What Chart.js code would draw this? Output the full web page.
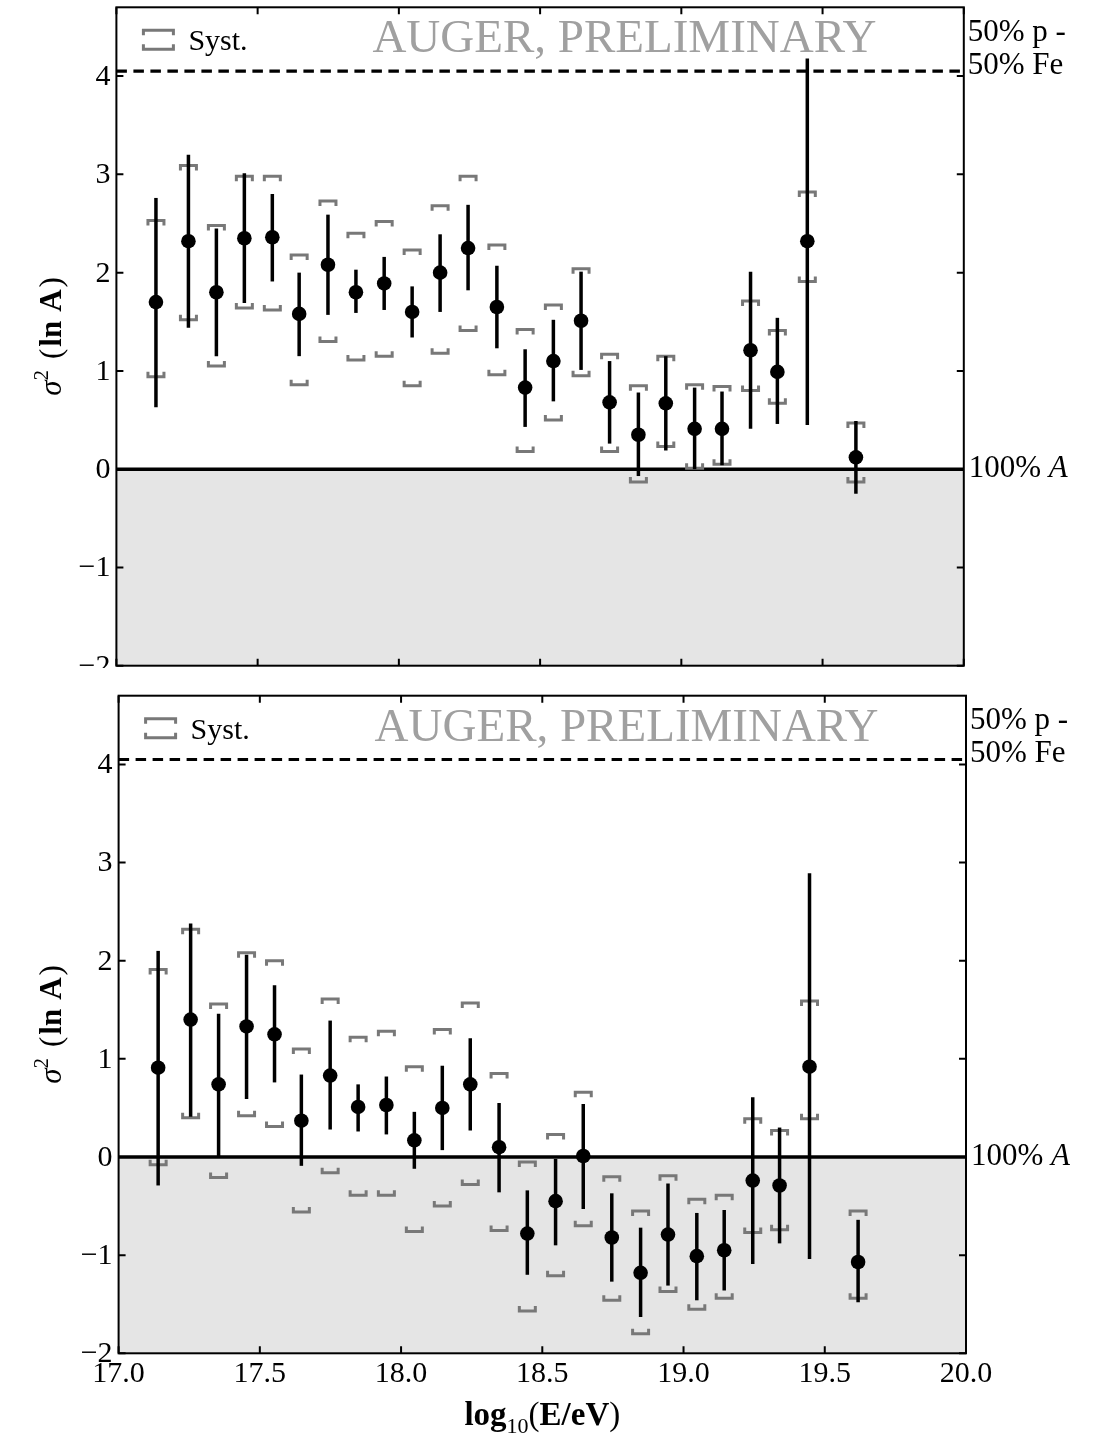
<!DOCTYPE html>
<html lang="en">
<head>
  <meta charset="UTF-8">
  <title>sigma^2(ln A) vs energy</title>
  <script src="https://cdn.jsdelivr.net/npm/chart.js"></script>
  <style>
    body { margin: 0; background: #fff; }
    #wrap { position: relative; width: 1095px; height: 1437px; }
    .panel { position: absolute; left: 0; width: 1095px; }
    #p1 { top: 0; height: 673px; }
    #p2 { top: 668px; height: 769px; background: #fff; }
  </style>
</head>
<body>
  <div id="wrap">
    <div class="panel" id="p1"><canvas id="c1"></canvas></div>
    <div class="panel" id="p2"><canvas id="c2"></canvas></div>
  </div>

  <script>
    // log10(E/eV) bin centres
    const energy = [17.14, 17.255, 17.354, 17.453, 17.552, 17.647, 17.749, 17.848, 17.948, 18.047,
                    18.146, 18.245, 18.347, 18.447, 18.547, 18.645, 18.746, 18.848, 18.945, 19.047,
                    19.144, 19.245, 19.34, 19.446, 19.618];

    // upper panel
    const val1    = [1.70, 2.32, 1.80, 2.35, 2.36, 1.58, 2.08, 1.80, 1.89, 1.60, 2.00, 2.25, 1.65, 0.83, 1.10, 1.51, 0.68, 0.35, 0.67, 0.41, 0.41, 1.21, 0.99, 2.32, 0.12];
    const errHi1  = [2.76, 3.20, 2.45, 3.01, 2.80, 2.00, 2.59, 2.03, 2.16, 1.86, 2.39, 2.69, 2.07, 1.22, 1.52, 2.01, 1.10, 0.78, 1.15, 0.83, 0.79, 2.01, 1.54, 4.18, 0.49];
    const errLo1  = [0.63, 1.44, 1.15, 1.69, 1.91, 1.15, 1.57, 1.59, 1.62, 1.34, 1.60, 1.82, 1.23, 0.43, 0.69, 1.01, 0.26, -0.07, 0.19, 0.00, 0.04, 0.41, 0.46, 0.45, -0.25];
    const systHi1 = [2.53, 3.09, 2.48, 2.98, 2.98, 2.18, 2.73, 2.40, 2.52, 2.23, 2.68, 2.98, 2.28, 1.42, 1.67, 2.04, 1.17, 0.85, 1.15, 0.86, 0.84, 1.71, 1.41, 2.82, 0.47];
    const systLo1 = [0.94, 1.52, 1.05, 1.64, 1.62, 0.86, 1.30, 1.11, 1.15, 0.85, 1.18, 1.41, 0.96, 0.18, 0.50, 0.95, 0.18, -0.13, 0.23, 0.01, 0.05, 0.80, 0.67, 1.91, -0.13];

    // lower panel
    const val2    = [0.91, 1.40, 0.74, 1.33, 1.25, 0.37, 0.83, 0.51, 0.53, 0.17, 0.50, 0.74, 0.10, -0.78, -0.45, 0.01, -0.82, -1.18, -0.79, -1.01, -0.95, -0.24, -0.29, 0.92, -1.07];
    const errHi2  = [2.10, 2.38, 1.46, 2.06, 1.75, 0.84, 1.39, 0.74, 0.82, 0.46, 0.93, 1.21, 0.55, -0.34, -0.02, 0.54, -0.37, -0.72, -0.27, -0.57, -0.54, 0.61, 0.30, 2.89, -0.64];
    const errLo2  = [-0.29, 0.41, 0.01, 0.59, 0.76, -0.09, 0.28, 0.26, 0.23, -0.12, 0.07, 0.27, -0.36, -1.20, -0.90, -0.53, -1.27, -1.63, -1.31, -1.46, -1.36, -1.09, -0.88, -1.04, -1.48];
    const systHi2 = [1.91, 2.32, 1.56, 2.08, 2.00, 1.10, 1.61, 1.22, 1.28, 0.92, 1.30, 1.57, 0.85, -0.05, 0.23, 0.66, -0.20, -0.55, -0.19, -0.43, -0.39, 0.39, 0.27, 1.59, -0.55];
    const systLo2 = [-0.08, 0.40, -0.21, 0.42, 0.31, -0.56, -0.16, -0.39, -0.39, -0.76, -0.50, -0.28, -0.75, -1.57, -1.21, -0.70, -1.46, -1.80, -1.37, -1.55, -1.44, -0.77, -0.74, 0.39, -1.44];

    const xTicks = [17.0, 17.5, 18.0, 18.5, 19.0, 19.5, 20.0];
    const yTicks = [-2, -1, 0, 1, 2, 3, 4];
    const mixLevel = 4.05;  // 50% p - 50% Fe
    const pureLevel = 0;    // 100% A

    const SERIF = '"Liberation Serif", "Times New Roman", serif';

    function runsWidth(ctx, runs) {
      let w = 0;
      runs.forEach(r => { ctx.font = r.font; w += ctx.measureText(r.t).width + (r.gap || 0); });
      return w;
    }
    function drawRuns(ctx, runs, x, y) {
      let cx = x;
      runs.forEach(r => {
        ctx.font = r.font;
        ctx.fillText(r.t, cx, y + (r.dy || 0));
        cx += ctx.measureText(r.t).width + (r.gap || 0);
      });
    }
    const fmtY = v => v < 0 ? '\u2212' + Math.abs(v) : String(v);

    const panelPlugin = {
      id: 'panel',
      beforeDatasetsDraw(chart, args, o) {
        const { ctx, chartArea: a, scales: { x, y } } = chart;
        const y0 = y.getPixelForValue(pureLevel);
        const yd = y.getPixelForValue(mixLevel);
        ctx.save();
        // shaded unphysical region
        ctx.fillStyle = '#e5e5e5';
        ctx.fillRect(a.left, y0, a.right - a.left, a.bottom - y0);

        ctx.strokeStyle = '#000';
        ctx.lineWidth = 3.2;
        ctx.setLineDash([10.5, 6.5]);
        ctx.beginPath(); ctx.moveTo(a.left, yd); ctx.lineTo(a.right, yd); ctx.stroke();
        ctx.setLineDash([]);
        ctx.lineWidth = 3.5;
        ctx.beginPath(); ctx.moveTo(a.left, y0); ctx.lineTo(a.right, y0); ctx.stroke();

        // systematic brackets
        ctx.strokeStyle = '#787878';
        ctx.lineWidth = 3;
        energy.forEach((e, i) => {
          const px = x.getPixelForValue(e);
          const yh = y.getPixelForValue(o.sHi[i]);
          const yl = y.getPixelForValue(o.sLo[i]);
          ctx.beginPath();
          ctx.moveTo(px - 8, yh + 5); ctx.lineTo(px - 8, yh); ctx.lineTo(px + 8, yh); ctx.lineTo(px + 8, yh + 5);
          ctx.moveTo(px - 8, yl - 5); ctx.lineTo(px - 8, yl); ctx.lineTo(px + 8, yl); ctx.lineTo(px + 8, yl - 5);
          ctx.stroke();
        });

        // statistical error bars
        ctx.strokeStyle = '#000';
        ctx.lineWidth = 3.5;
        energy.forEach((e, i) => {
          const px = x.getPixelForValue(e);
          ctx.beginPath();
          ctx.moveTo(px, y.getPixelForValue(o.eHi[i]));
          ctx.lineTo(px, y.getPixelForValue(o.eLo[i]));
          ctx.stroke();
        });
        ctx.restore();
      },
      afterDraw(chart, args, o) {
        const { ctx, chartArea: a, scales: { x, y } } = chart;
        ctx.save();
        // frame + inward ticks on all sides
        ctx.strokeStyle = '#000';
        ctx.lineWidth = 2;
        ctx.strokeRect(a.left, a.top, a.right - a.left, a.bottom - a.top);
        ctx.beginPath();
        xTicks.forEach(v => {
          const px = x.getPixelForValue(v);
          ctx.moveTo(px, a.bottom); ctx.lineTo(px, a.bottom - 7);
          ctx.moveTo(px, a.top); ctx.lineTo(px, a.top + 7);
        });
        yTicks.forEach(v => {
          const py = y.getPixelForValue(v);
          ctx.moveTo(a.left, py); ctx.lineTo(a.left + 7, py);
          ctx.moveTo(a.right, py); ctx.lineTo(a.right - 7, py);
        });
        ctx.stroke();

        // y tick labels
        ctx.fillStyle = '#000';
        ctx.font = '30px ' + SERIF;
        ctx.textAlign = 'right';
        ctx.textBaseline = 'middle';
        yTicks.forEach(v => ctx.fillText(fmtY(v), a.left - 6, y.getPixelForValue(v) + 1));

        ctx.textAlign = 'left';
        ctx.textBaseline = 'alphabetic';

        // Syst. legend
        const lx = a.left + 27, ly = a.top + 23;
        ctx.strokeStyle = '#787878';
        ctx.lineWidth = 3;
        ctx.beginPath();
        ctx.moveTo(lx, ly + 5); ctx.lineTo(lx, ly); ctx.lineTo(lx + 30, ly); ctx.lineTo(lx + 30, ly + 5);
        ctx.moveTo(lx, ly + 14); ctx.lineTo(lx, ly + 19); ctx.lineTo(lx + 30, ly + 19); ctx.lineTo(lx + 30, ly + 14);
        ctx.stroke();
        ctx.font = '30px ' + SERIF;
        ctx.fillText('Syst.', a.left + 72, a.top + 43);

        ctx.fillStyle = '#a0a0a0';
        ctx.font = '47px ' + SERIF;
        ctx.fillText('AUGER, PRELIMINARY', a.left + 256, a.top + 45);

        // reference labels on the right
        ctx.fillStyle = '#000';
        const yd = y.getPixelForValue(mixLevel);
        const y0 = y.getPixelForValue(pureLevel);
        ctx.font = '31px ' + SERIF;
        ctx.fillText('50% p -', a.right + 4, yd - 30);
        ctx.fillText('50% Fe', a.right + 4, yd + 3);
        drawRuns(ctx, [
          { t: '100% ', font: '31px ' + SERIF },
          { t: 'A', font: 'italic 31px ' + SERIF }
        ], a.right + 5, y0 + 8);

        // y title: sigma^2 (ln A)
        const yRuns = [
          { t: '\u03c3', font: 'italic 31px ' + SERIF },
          { t: '2', font: '21px ' + SERIF, dy: -13, gap: 11 },
          { t: '(', font: '31px ' + SERIF, gap: 2 },
          { t: 'ln', font: 'bold 31px ' + SERIF, gap: 9 },
          { t: 'A', font: 'bold 31px ' + SERIF, gap: 2 },
          { t: ')', font: '31px ' + SERIF }
        ];
        ctx.save();
        ctx.translate(61, (a.top + a.bottom) / 2);
        ctx.rotate(-Math.PI / 2);
        drawRuns(ctx, yRuns, -runsWidth(ctx, yRuns) / 2, 0);
        ctx.restore();

        // x title: log10(E/eV)
        if (o.xTitle) {
          const xRuns = [
            { t: 'log', font: 'bold 33px ' + SERIF },
            { t: '10', font: '22px ' + SERIF, dy: 8 },
            { t: '(', font: '33px ' + SERIF },
            { t: 'E/eV', font: 'bold 33px ' + SERIF },
            { t: ')', font: '33px ' + SERIF }
          ];
          drawRuns(ctx, xRuns, (a.left + a.right) / 2 - runsWidth(ctx, xRuns) / 2, a.bottom + 72);
        }
        ctx.restore();
      }
    };

    function makeChart(id, vals, eHi, eLo, sHi, sLo, cfg) {
      return new Chart(document.getElementById(id), {
        type: 'scatter',
        data: {
          datasets: [{
            data: energy.map((e, i) => ({ x: e, y: vals[i] })),
            pointRadius: 7.3,
            pointHoverRadius: 7.3,
            pointBorderWidth: 0,
            backgroundColor: '#000',
            borderColor: '#000'
          }]
        },
        options: {
          responsive: true,
          maintainAspectRatio: false,
          animation: false,
          events: [],
          layout: { padding: { top: cfg.padTop, right: cfg.padRight, left: 0, bottom: 0 } },
          plugins: {
            legend: { display: false },
            tooltip: { enabled: false },
            panel: { eHi, eLo, sHi, sLo, xTitle: cfg.xTitle }
          },
          scales: {
            x: {
              type: 'linear',
              min: 17, max: 20,
              afterBuildTicks: s => { s.ticks = xTicks.map(v => ({ value: v })); },
              afterFit: s => { s.height = cfg.xHeight; },
              grid: { display: false, drawTicks: false },
              border: { display: false },
              ticks: {
                display: cfg.xTitle,
                color: '#000',
                padding: 3,
                maxRotation: 0,
                font: { family: SERIF, size: 30 },
                callback: v => Number(v).toFixed(1)
              }
            },
            y: {
              type: 'linear',
              min: -2, max: 4.7,
              afterBuildTicks: s => { s.ticks = yTicks.map(v => ({ value: v })); },
              afterFit: s => { s.width = cfg.yWidth; },
              grid: { display: false, drawTicks: false },
              border: { display: false },
              ticks: { display: false }
            }
          }
        },
        plugins: [panelPlugin]
      });
    }

    makeChart('c1', val1, errHi1, errLo1, systHi1, systLo1,
              { padTop: 7.3, padRight: 131.2, yWidth: 116.4, xHeight: 2.7, xTitle: false });
    makeChart('c2', val2, errHi2, errLo2, systHi2, systLo2,
              { padTop: 27.7, padRight: 129, yWidth: 118.6, xHeight: 83.7, xTitle: true });
  </script>
</body>
</html>
